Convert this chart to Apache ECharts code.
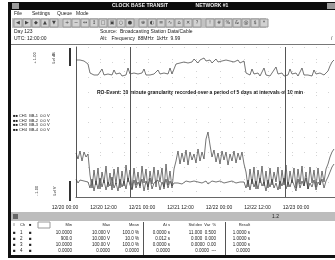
<!DOCTYPE html>
<html>
<head>
<meta charset="utf-8">
<title>Trace view</title>
<script src="https://cdn.jsdelivr.net/npm/echarts@6/dist/echarts.min.js"></script>
<style>
  html, body { margin: 0; padding: 0; background: #fff; }
  #chart { width: 335px; height: 260px; }
</style>
</head>
<body>
<div id="chart"></div>
<script>
// one sample every 2 units on the time axis
const sampleStep = 2;

// time labels under the plot
const timeLabels = ['12/20 00:00', '12/20 12:00', '12/21 00:00', '12/21 12:00', '12/22 00:00', '12/22 12:00', '12/23 00:00'];

// upper channel (level)
const upperTrace = [
  137,136,137,135,136,134,133,124,123,122,
  124,122,123,128,122,121,123,124,122,127,
  123,122,124,121,123,122,129,123,122,124,
  122,123,121,124,128,122,123,122,124,123,
  122,127,123,121,124,122,123,129,123,124,
  133,135,134,136,135,137,134,136,135,138,
  136,134,137,135,139,136,135,137,134,136,
  138,135,137,136,134,137,135,136,138,135,
  136,137,134,135,136,124,123,122,128,123,
  122,124,121,123,129,122,123,121,124,122,
  130,123,122,124,121,123,122,128,123,122,
  124,121,123,129,122,124,122,123,121,127,
  123,122,124,123,122,121,126,131,135,137
];

// lower channel (noisy signal)
const lowerTrace = [
  44,38,46,36,45,40,43,22,9,27,
  12,29,8,25,14,31,10,24,7,28,
  13,30,9,26,11,32,15,27,8,29,
  12,25,9,31,14,28,7,26,13,30,
  10,27,15,29,8,33,12,26,9,28,
  36,46,33,44,35,47,32,45,37,43,
  34,48,36,45,38,58,65,52,40,47,
  35,44,33,46,37,45,32,43,36,46,
  34,44,37,45,33,25,10,28,13,30,
  8,27,14,31,11,26,9,29,12,25,
  15,30,8,27,12,32,10,26,14,29,
  9,28,13,31,11,25,8,30,14,27,
  10,29,12,26,15,28,33,40,45,48
];

// lower channel (baseline)
const baseTrace = [
  18,14,17,15,16,14,15,9,18,6,
  16,8,19,10,17,7,15,11,20,9,
  14,6,18,10,16,8,19,12,7,17,
  9,15,11,18,6,16,10,19,8,14,
  12,17,7,15,10,18,9,16,11,14,
  15,14,16,13,15,16,14,15,13,16,
  14,15,17,14,15,16,13,15,16,14,
  15,13,16,15,14,16,15,13,16,15,
  14,16,15,13,15,9,17,7,18,10,
  16,8,19,11,15,6,17,10,18,9,
  14,7,16,11,19,8,15,10,17,12,
  6,18,9,16,11,19,8,14,10,17,
  7,15,12,18,9,16,20,25,30,33
];

// cursor positions on the time axis
const cursorMarks = [54, 209];

// window texts
const menuItems = ['File', 'Settings', 'Queue', 'Mode'];
const toolbarGlyphs = ['◀','▶','◆','▲','▼','+','−','↔','↕','□','▣','○','●','⊕','◐','≡','∿','⌂','✕','?','!','#','%','&','@','$','*'];
const legendLines = ['■■ CH1  BB-1  0.0 V', '■■ CH2  BB-2  0.0 V', '■■ CH3  BB-3  0.0 V', '■■ CH4  BB-4  0.0 V'];
const tableHeader = ['#', 'Ch', '■', 'Min', 'Max', 'Mean', 'Δt s', 'Std dev  Var  %', 'Result'];
const tableRows = [
  ['■', '1', '■', '10.0000', '10.000 V', '100.0 %', '0.0000 s', '11.000  0.500', '1.0000 s'],
  ['■', '2', '■', '900.0', '10.000 V', '10.0 %', '0.012 s', '0.000  0.000', '1.0000 s'],
  ['■', '3', '■', '10.0000', '100.00 V', '100.0 %', '0.0000 s', '0.0000  0.00', '1.0000 s'],
  ['■', '4', '■', '0.0000', '0.0000', '0.0000', '0.0000', '0.0000  ---', '0.0000']
];
const tableCols = [[13, 'left'], [20, 'left'], [29, 'left'], [72, 'right'], [110, 'right'], [139, 'right'], [170, 'right'], [216, 'right'], [250, 'right']];

const FONT = 'Liberation Sans';

function txt(x, y, s, extra) {
  return {
    type: 'text', x: x, y: y, silent: true,
    style: Object.assign({
      text: s, fontSize: 5, fontFamily: FONT, fill: '#222',
      textAlign: 'left', align: 'left', textVerticalAlign: 'middle', verticalAlign: 'middle'
    }, extra || {})
  };
}

// rotated label, reads bottom to top
function vtxt(x, y, s) {
  const t = txt(x, y, s, { textAlign: 'center', align: 'center', fontSize: 4 });
  t.rotation = Math.PI / 2;
  return t;
}

function box(x, y, w, h, fill, stroke) {
  return {
    type: 'rect', silent: true,
    shape: { x: x, y: y, width: w, height: h },
    style: { fill: fill, stroke: stroke || null, lineWidth: 1 }
  };
}

function hline(x1, x2, y, color) {
  return { type: 'line', silent: true, shape: { x1: x1, y1: y + 0.5, x2: x2, y2: y + 0.5 }, style: { stroke: color, lineWidth: 1 } };
}

function vline(x, y1, y2, color, w) {
  return { type: 'line', silent: true, shape: { x1: x + 0.5, y1: y1, x2: x + 0.5, y2: y2 }, style: { stroke: color, lineWidth: w || 1 } };
}

function buildChrome() {
  const g = [];
  // window frame and title bar
  g.push(box(8, 2, 3, 256, '#111'));
  g.push(box(10, 2, 325, 8, '#0c0c0c'));
  g.push(box(12, 3, 7, 6, '#9a9a9a'));
  g.push(box(327, 3, 8, 6, '#9a9a9a'));
  g.push(txt(140, 6, 'CLOCK BASE TRANSIT', { fill: '#eee', fontWeight: 'bold', textAlign: 'center', align: 'center' }));
  g.push(txt(212, 6, 'NETWORK #1', { fill: '#eee', fontWeight: 'bold', textAlign: 'center', align: 'center' }));

  // menu bar
  const menuX = [14, 32, 57, 76];
  menuItems.forEach((m, i) => g.push(txt(menuX[i], 14, m)));

  // toolbar
  g.push(box(12, 18, 254, 10, '#c2c2c2'));
  let bx = 14;
  toolbarGlyphs.forEach((gl, i) => {
    if (i === 5 || i === 13 || i === 20) bx += 4;
    g.push(box(bx, 19, 8, 8, '#d2d2d2', '#9a9a9a'));
    g.push(txt(bx + 4, 23, gl, { fontSize: 5, fontFamily: 'DejaVu Sans', fill: '#444', textAlign: 'center', align: 'center' }));
    bx += 9;
  });

  // info lines
  g.push(txt(14, 32, 'Day 123'));
  g.push(txt(14, 39, 'UTC: 12:00:00'));
  g.push(txt(100, 32, 'Source:  Broadcasting Station Data/Cable'));
  g.push(txt(100, 39, 'Alt:   Frequency  88MHz  1kHz  9.99'));
  g.push(txt(331, 39, '/'));
  g.push(hline(11, 335, 44, '#777'));

  // left panel: rotated scale labels and level bars
  g.push(vtxt(35, 58, '+ 1.00'));
  g.push(vtxt(54, 58, 'Lvl dB'));
  g.push(box(69, 48, 2, 18, '#333'));
  g.push(vtxt(37, 191, '- 1.00'));
  g.push(vtxt(55, 191, 'Lvl V'));
  g.push(box(69, 181, 2, 20, '#333'));
  legendLines.forEach((l, i) => g.push(txt(13, 116 + i * 4.5, l, { fontSize: 4 })));

  // annotation inside the plot
  g.push(txt(97, 93, 'RO-Event: 10 minute granularity recorded over a period of 5 days at intervals of 10 min', { fontWeight: 'bold', fill: '#111' }));

  // status strip and table
  g.push(box(11, 212, 324, 9, '#bdbdbd'));
  g.push(box(13, 214, 5, 5, '#666'));
  g.push(txt(272, 216.5, '1.2'));
  g.push(box(38, 222, 12, 6, '#fff', '#999'));
  tableHeader.forEach((h, c) => {
    g.push(txt(tableCols[c][0], 225, h, { textAlign: tableCols[c][1], align: tableCols[c][1], fontSize: 4 }));
  });
  tableRows.forEach((row, r) => {
    row.forEach((cell, c) => {
      g.push(txt(tableCols[c][0], 233 + r * 6, cell, { textAlign: tableCols[c][1], align: tableCols[c][1], fontSize: 4.5 }));
    });
  });
  g.push(vline(143, 222, 255, '#555'));
  g.push(vline(225, 222, 255, '#555'));
  g.push(box(8, 255, 327, 3, '#111'));
  return g;
}

function toPoints(values) {
  return values.map((v, i) => [i * sampleStep, v]);
}

function renderChart() {
  const chart = echarts.init(document.getElementById('chart'));
  const traceStyle = { color: '#3a3a3a', width: 0.7 };
  const dots = { type: [1, 11], color: '#d4d4d4', width: 1 };

  chart.setOption({
    animation: false,
    grid: [
      { left: 76, top: 47, width: 259, height: 150 },
      { left: 65, top: 47, width: 231, height: 153 }
    ],
    xAxis: [
      {
        gridIndex: 0, type: 'value', min: 0, max: 259, interval: 24,
        axisLine: { show: true, lineStyle: { color: '#666' } },
        axisTick: { show: false }, axisLabel: { show: false },
        splitLine: { show: true, lineStyle: dots }
      },
      {
        gridIndex: 1, type: 'category', data: timeLabels, boundaryGap: false,
        axisLine: { show: false }, axisTick: { show: false },
        axisLabel: { fontSize: 5, fontFamily: FONT, color: '#222', margin: 5 },
        splitLine: { show: false }
      }
    ],
    yAxis: [
      {
        gridIndex: 0, type: 'value', min: 0, max: 150, interval: 15,
        axisLine: { show: true, lineStyle: { color: '#555' } },
        axisTick: { show: false }, axisLabel: { show: false },
        splitLine: { show: true, lineStyle: dots }
      },
      { gridIndex: 1, show: false }
    ],
    series: [
      {
        name: 'Level', type: 'line', xAxisIndex: 0, yAxisIndex: 0,
        data: toPoints(upperTrace), symbol: 'none', lineStyle: traceStyle,
        markLine: {
          silent: true, symbol: 'none', label: { show: false },
          lineStyle: { color: '#555', width: 1, type: 'solid' },
          data: cursorMarks.map(x => ({ xAxis: x }))
        }
      },
      {
        name: 'Signal', type: 'line', xAxisIndex: 0, yAxisIndex: 0,
        data: toPoints(lowerTrace), symbol: 'none', lineStyle: traceStyle
      },
      {
        name: 'Base', type: 'line', xAxisIndex: 0, yAxisIndex: 0,
        data: toPoints(baseTrace), symbol: 'none', lineStyle: traceStyle
      }
    ],
    graphic: buildChrome()
  });
}

document.addEventListener('DOMContentLoaded', renderChart);
</script>
</body>
</html>
